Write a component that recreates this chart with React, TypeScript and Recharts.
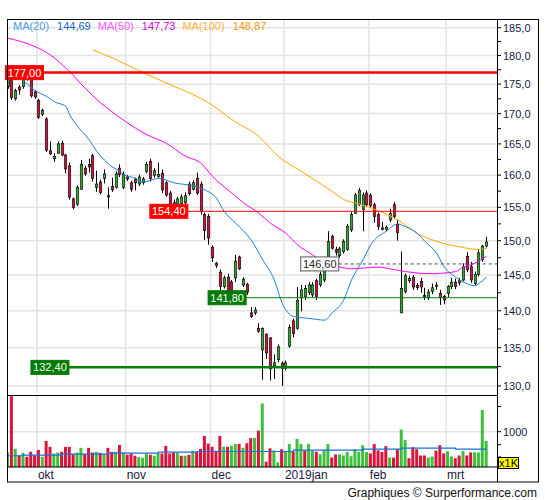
import React from 'react';
import { ComposedChart, Bar, Line, XAxis, YAxis, CartesianGrid, ReferenceLine, Cell } from 'recharts';

const FONT = '"Liberation Sans", Arial, sans-serif';
const RED = '#d0103a';
const GREEN = '#30a830';
const VOL_RED = '#dc143c';
const VOL_GREEN = '#3cc03c';
const GRID = '#e3e3e3';
const TEXT = '#1a1a40';

// daily candles, 19 Sep 2018 .. 15 Mar 2019
const opens = [
  174.6, 176.1, 172.5, 174.5, 174.6, 176.3, 175.8, 173.7, 172.2, 169.9,
  169.1, 163.9, 162.6, 163.5, 165.1, 163.2, 161.5, 156.3, 155.5, 157.8,
  161.1, 161.7, 163.1, 158.1, 158.9, 159.5, 156.8, 158.2, 158.1, 161.1,
  158.1, 159.7, 158.8, 159.4, 158.6, 158.8, 160.6, 162.2, 160.0, 159.8,
  160.3, 158.8, 157.2, 155.7, 155.4, 155.6, 155.7, 158.6, 157.8, 159.5,
  158.6, 153.9, 153.6, 149.0, 146.7, 145.4, 143.4, 144.7, 144.0, 144.6,
  147.6, 143.6, 143.7, 139.7, 139.7, 137.6, 134.7, 136.8, 136.3, 132.6,
  133.4, 132.9, 132.3, 135.2, 138.6, 137.6, 141.8, 142.0, 142.5, 142.2,
  144.2, 143.6, 144.3, 146.0, 150.6, 148.7, 147.8, 148.4, 148.7, 151.6,
  154.1, 155.4, 154.7, 157.2, 156.9, 155.4, 153.9, 151.9, 151.7, 153.1,
  155.4, 152.4, 139.7, 142.7, 144.2, 144.7, 143.5, 144.1, 142.1, 141.8,
  142.7, 143.4, 142.4, 142.0, 142.4, 143.4, 144.0, 143.9, 144.3, 147.7,
  146.2, 143.8, 145.1, 147.2, 149.2,
];
const highs = [
  176.5, 176.5, 174.2, 174.8, 175.9, 176.8, 176.1, 174.0, 172.5, 170.8,
  169.4, 165.4, 163.5, 165.4, 165.5, 163.4, 162.0, 156.5, 158.4, 162.4,
  161.5, 162.6, 163.4, 160.7, 159.3, 160.9, 158.1, 159.6, 160.6, 161.7,
  160.6, 160.0, 159.1, 159.6, 160.1, 159.7, 162.1, 162.6, 161.1, 162.0,
  160.9, 159.1, 157.5, 156.2, 156.6, 157.0, 157.3, 159.0, 159.2, 160.4,
  159.0, 154.2, 154.0, 149.3, 146.9, 145.8, 144.9, 145.2, 144.3, 147.9,
  147.8, 144.7, 143.9, 140.5, 140.5, 138.3, 137.7, 136.9, 136.4, 134.1,
  135.4, 133.2, 133.3, 138.1, 138.9, 143.3, 143.6, 143.6, 144.0, 144.0,
  144.5, 145.5, 146.9, 151.4, 150.9, 149.1, 149.1, 150.2, 152.5, 154.3,
  157.2, 158.0, 157.3, 157.6, 157.2, 155.7, 154.2, 152.8, 152.3, 154.8,
  155.8, 153.1, 148.4, 145.2, 144.9, 145.0, 143.9, 144.6, 143.2, 143.0,
  143.8, 144.0, 142.9, 142.2, 143.6, 144.6, 144.5, 144.6, 146.7, 148.3,
  146.9, 145.5, 148.6, 149.4, 150.6,
];
const lows = [
  174.2, 172.3, 172.2, 173.2, 174.2, 175.6, 172.7, 172.5, 169.1, 169.6,
  163.7, 163.2, 162.1, 163.4, 163.0, 160.3, 156.2, 154.7, 155.2, 157.7,
  159.9, 160.4, 159.0, 157.4, 157.0, 158.7, 154.8, 157.4, 157.9, 159.7,
  157.8, 159.1, 157.4, 157.6, 158.3, 158.5, 160.3, 159.0, 159.6, 159.6,
  157.2, 156.6, 154.6, 154.2, 155.1, 155.3, 155.5, 156.8, 157.6, 156.9,
  153.9, 150.1, 149.4, 146.9, 146.0, 142.6, 143.1, 142.4, 142.3, 144.0,
  145.7, 143.3, 142.2, 139.0, 139.4, 137.0, 130.8, 133.5, 130.7, 130.9,
  133.1, 130.0, 132.0, 135.0, 136.4, 137.4, 139.9, 141.5, 142.2, 141.9,
  141.5, 143.3, 144.0, 145.9, 148.7, 147.8, 147.5, 148.1, 148.5, 151.3,
  154.0, 155.2, 151.4, 155.1, 154.9, 152.7, 151.6, 151.5, 151.4, 152.8,
  153.3, 150.0, 139.7, 142.4, 143.9, 142.9, 142.9, 142.5, 141.5, 141.5,
  142.3, 142.9, 140.8, 140.9, 141.9, 143.0, 143.0, 143.5, 144.1, 145.4,
  143.9, 143.5, 144.8, 146.9, 149.0,
];
const closes = [
  176.1, 172.7, 173.9, 174.0, 175.8, 175.8, 173.0, 172.8, 169.4, 170.5,
  164.0, 163.4, 163.0, 165.0, 163.2, 161.0, 156.6, 155.0, 158.1, 161.7,
  160.2, 161.3, 159.5, 158.6, 157.3, 160.2, 156.6, 157.7, 160.2, 160.1,
  160.1, 159.4, 157.8, 158.8, 159.7, 159.4, 161.7, 159.5, 160.7, 160.1,
  157.7, 156.9, 155.4, 155.2, 156.3, 156.6, 156.8, 157.1, 158.8, 157.2,
  154.4, 151.5, 150.4, 147.5, 146.4, 143.4, 144.6, 142.7, 142.7, 147.0,
  145.9, 144.4, 142.6, 139.2, 140.1, 137.2, 137.6, 134.3, 132.2, 133.0,
  135.1, 132.3, 133.0, 137.7, 136.9, 141.4, 142.9, 143.1, 143.6, 143.6,
  142.0, 145.1, 146.5, 149.9, 148.9, 148.3, 148.8, 149.9, 152.1, 153.9,
  156.9, 157.6, 156.9, 155.4, 155.3, 153.6, 152.1, 151.7, 152.0, 154.1,
  153.6, 151.2, 143.1, 144.9, 144.5, 143.3, 143.2, 143.3, 141.9, 142.6,
  143.2, 143.6, 141.8, 141.5, 143.4, 144.0, 143.4, 144.2, 146.2, 145.8,
  144.3, 145.1, 148.2, 149.2, 149.8,
];

// volume in thousands, and its colour (g = up day, r = down day)
const volumes = [
  565, 2650, 625, 521, 560, 503, 576, 521, 608, 503,
  777, 660, 550, 565, 576, 660, 660, 541, 565, 642,
  541, 642, 565, 576, 560, 541, 642, 576, 576, 696,
  565, 531, 550, 517, 499, 489, 550, 531, 517, 560,
  550, 678, 550, 565, 565, 517, 517, 531, 592, 576,
  625, 890, 722, 660, 592, 890, 660, 660, 678, 716,
  716, 642, 730, 838, 845, 1030, 2170, 439, 635, 600,
  432, 618, 584, 712, 577, 820, 712, 595, 712, 595,
  577, 537, 595, 712, 492, 537, 537, 521, 573, 511,
  618, 573, 691, 573, 551, 712, 600, 573, 672, 492,
  492, 618, 1060, 798, 483, 653, 618, 521, 521, 492,
  507, 595, 691, 551, 584, 507, 483, 521, 589, 521,
  567, 567, 567, 1810, 775,
];
const volumeSide =
  'grgrgrrrrg' + 'rrggrrrrgg' + 'rrrgrgrrgr' + 'grrrgggrgg' + 'rrrrgrgrgr' +
  'rrrrrrgrgg' + 'rgrrgrgrrg' + 'grggrggrgg' + 'rgggrrgggg' + 'ggggrrrrrg' +
  'rrggrrrrrg' + 'grrrggrrgr' + 'rgggg';

// moving averages: [day index, value]
const ma20Points = [
  [0, 177.3], [3, 176.2], [7, 173.9], [10, 172.9], [12, 172.0], [15, 171.2], [16, 169.8],
  [18, 167.9], [21, 165.7], [23, 163.8], [25, 162.4], [27, 161.3], [29, 160.6], [30, 160.1],
  [33, 159.5], [35, 158.9], [39, 159.5], [43, 158.8], [48, 158.3], [51, 157.7], [54, 156.4],
  [56, 154.4], [59, 152.6], [63, 150.1], [66, 147.2], [69, 144.3], [71, 141.1], [74, 139.2],
  [77, 139.0], [80, 138.8], [82, 138.7], [84, 139.7], [87, 141.5], [89, 144.3], [92, 147.2],
  [94, 149.4], [98, 151.4], [101, 152.5], [102, 152.3], [106, 151.1], [108, 149.9],
  [111, 148.2], [113, 146.2], [116, 144.7], [118, 144.0], [121, 143.5], [122, 143.8], [124, 144.69],
];
const ma50Points = [
  [0, 183.1], [7, 181.6], [11, 180.1], [15, 177.8], [20, 174.3], [24, 171.8], [28, 169.8],
  [33, 167.6], [36, 166.5], [41, 165.1], [46, 163.0], [50, 161.9], [53, 159.8], [58, 157.2],
  [61, 155.7], [65, 154.1], [68, 152.6], [72, 151.1], [75, 149.4], [79, 147.9], [82, 146.7],
  [86, 146.15], [89, 145.9], [92, 146.0], [96, 146.15], [99, 145.9], [103, 145.5], [106, 145.3],
  [110, 145.2], [113, 145.3], [116, 145.5], [118, 146.15], [121, 146.7], [124, 147.73],
];
const ma100Points = [
  [22, 181.0], [27, 179.6], [35, 177.0], [41, 175.2], [48, 173.2], [52, 171.8], [58, 169.0],
  [65, 166.2], [70, 163.0], [76, 160.6], [84, 157.45], [87, 156.2], [91, 155.5], [95, 154.7],
  [101, 153.1], [106, 151.1], [111, 149.9], [117, 149.1], [122, 148.7], [124, 148.87],
];
const volumeAvgPoints = [
  [0, 517], [4, 527], [14, 541], [26, 556], [39, 571], [49, 581], [74, 603],
  [92, 620], [102, 637], [116, 620], [124, 620],
];

const monthTicks = [7.5, 30.5, 52.5, 71.5, 93.5, 113.5];
const monthLabels = ['okt', 'nov', 'dec', '2019jan', 'feb', 'mrt'];
const priceMajor = [130, 135, 140, 145, 150, 155, 160, 165, 170, 175, 180, 185];
const priceTicks = [130, 132.5, 135, 137.5, 140, 142.5, 145, 147.5, 150, 152.5, 155, 157.5,
  160, 162.5, 165, 167.5, 170, 172.5, 175, 177.5, 180, 182.5, 185];
const volumeTicks = [500, 700, 1000, 2000];

// support / resistance levels and the day where each one starts
const levelValues = [177.0, 154.4, 141.8, 132.4, 146.6];
const levelStart = [9.2, 46.6, 61.7, 15.8, 85.7];

const X_DOMAIN = [-0.25, 126.7];
const fmt = (v: number, d: number) => v.toFixed(d).replace('.', ',');

const priceRows = opens.map((o, i) => ({
  i,
  o,
  h: highs[i],
  l: lows[i],
  c: closes[i],
  range: [lows[i], highs[i]],
  ma20: null as number | null,
  ma50: null as number | null,
  ma100: null as number | null,
}));
ma20Points.forEach(([i, v]) => (priceRows[i].ma20 = v));
ma50Points.forEach(([i, v]) => (priceRows[i].ma50 = v));
ma100Points.forEach(([i, v]) => (priceRows[i].ma100 = v));

const volumeRows = volumes.map((v, i) => ({ i, vol: v, avg: null as number | null }));
volumeAvgPoints.forEach(([i, v]) => (volumeRows[i].avg = v));

const Candle = (props: any) => {
  const { x, y, width, height, payload } = props;
  if (x == null || !payload) return null;
  const { o, h, l, c } = payload;
  const cx = Math.round(x + width / 2) + 0.5;
  const lh = Math.log(h);
  const span = lh - Math.log(l) || 1;
  const toY = (v: number) => y + (height * (lh - Math.log(v))) / span;
  const top = toY(Math.max(o, c));
  const bottom = toY(Math.min(o, c));
  return (
    <g>
      <line x1={cx} x2={cx} y1={y} y2={y + height} stroke="#000" strokeWidth={1} />
      <rect
        x={cx - 1.2}
        y={top}
        width={2.4}
        height={Math.max(bottom - top, 1)}
        fill={c >= o ? GREEN : RED}
        stroke="#111"
        strokeWidth={0.7}
      />
    </g>
  );
};

const PriceTick = ({ x, y, payload }: any) => {
  const major = payload.value % 5 === 0;
  return (
    <g>
      <line x1={x} x2={x + 4} y1={y} y2={y} stroke="#000" />
      {major && (
        <text x={x + 6} y={y + 4} fontSize={11} fill={TEXT} fontFamily={FONT}>
          {fmt(payload.value, 1)}
        </text>
      )}
    </g>
  );
};

const VolumeTick = ({ x, y, payload }: any) => (
  <g>
    <line x1={x} x2={x + 4} y1={y} y2={y} stroke="#000" />
    {payload.value === 1000 && (
      <text x={x + 6} y={y + 4} fontSize={11} fill={TEXT} fontFamily={FONT}>
        1000
      </text>
    )}
  </g>
);

const MonthTick = ({ x, y, payload }: any) => (
  <text x={x + 1} y={y + 12} fontSize={12} fill={TEXT} fontFamily={FONT}>
    {monthLabels[monthTicks.indexOf(payload.value)]}
  </text>
);

const levelTag = (text: string, fill: string, color: string, stroke: string) => (props: any) => {
  const { x, y } = props.viewBox;
  return (
    <g>
      <rect x={x - 38} y={y - 7} width={38} height={14} fill={fill} stroke={stroke} />
      <text x={x - 19} y={y + 4} textAnchor="middle" fontSize={11} fill={color} fontFamily={FONT}>
        {text}
      </text>
    </g>
  );
};

const levelStyles = [
  { stroke: '#ff0000', width: 2.5, fill: '#ff0000', color: '#fff', border: '#ff0000', dash: undefined },
  { stroke: '#ff0000', width: 1, fill: '#ff0000', color: '#fff', border: '#ff0000', dash: undefined },
  { stroke: '#008000', width: 1, fill: '#007a00', color: '#fff', border: '#007a00', dash: undefined },
  { stroke: '#008000', width: 2.5, fill: '#007a00', color: '#fff', border: '#007a00', dash: undefined },
  { stroke: '#444', width: 1, fill: '#fff', color: '#222', border: '#555', dash: '3 3' },
];

const legend = [
  { name: 'MA(20)', value: 144.69, light: '#4a9be0', dark: '#1565c0' },
  { name: 'MA(50)', value: 147.73, light: '#ff55ff', dark: '#e000e0' },
  { name: 'MA(100)', value: 148.87, light: '#ffb040', dark: '#f09a00' },
];

export default function App() {
  return (
    <div style={{ position: 'absolute', left: 0, top: 0, width: 545, height: 500, background: '#fff', fontFamily: FONT }}>
      <div style={{ position: 'absolute', left: 0, top: 0 }}>
        <ComposedChart width={545} height={394} data={priceRows} margin={{ top: 19, right: 5, bottom: 1, left: 7 }}>
          <CartesianGrid horizontalValues={priceMajor} verticalValues={monthTicks} stroke={GRID} strokeWidth={1.5} />
          <XAxis dataKey="i" type="number" domain={X_DOMAIN} ticks={monthTicks} allowDataOverflow hide />
          <YAxis
            orientation="right"
            type="number"
            scale="log"
            domain={[129.1, 186.6]}
            allowDataOverflow
            ticks={priceTicks}
            interval={0}
            width={43}
            axisLine={false}
            tickLine={false}
            tickSize={0}
            tickMargin={0}
            tick={<PriceTick />}
          />
          <Bar dataKey="range" barSize={3} shape={(p: any) => <Candle {...p} />} isAnimationActive={false} />
          <Line dataKey="ma100" type="monotone" stroke="#ffa500" strokeWidth={1} dot={false} activeDot={false} connectNulls isAnimationActive={false} />
          <Line dataKey="ma50" type="monotone" stroke="#ff00ff" strokeWidth={1} dot={false} activeDot={false} connectNulls isAnimationActive={false} />
          <Line dataKey="ma20" type="monotone" stroke="#1e7fd8" strokeWidth={1} dot={false} activeDot={false} connectNulls isAnimationActive={false} />
          {levelValues.map((v, k) => (
            <ReferenceLine
              key={k}
              segment={[{ x: levelStart[k], y: v }, { x: X_DOMAIN[1], y: v }]}
              stroke={levelStyles[k].stroke}
              strokeWidth={levelStyles[k].width}
              strokeDasharray={levelStyles[k].dash}
              label={levelTag(fmt(v, 2), levelStyles[k].fill, levelStyles[k].color, levelStyles[k].border)}
            />
          ))}
        </ComposedChart>
      </div>

      <div style={{ position: 'absolute', left: 0, top: 393 }}>
        <ComposedChart width={545} height={90} data={volumeRows} margin={{ top: 3, right: 5, bottom: 0, left: 7 }}>
          <CartesianGrid horizontalValues={[1000]} verticalValues={monthTicks} stroke={GRID} strokeWidth={1.5} />
          <XAxis
            dataKey="i"
            type="number"
            domain={X_DOMAIN}
            ticks={monthTicks}
            interval={0}
            allowDataOverflow
            height={16}
            axisLine={{ stroke: '#000' }}
            tickLine={false}
            tickSize={0}
            tickMargin={0}
            tick={<MonthTick />}
          />
          <YAxis
            orientation="right"
            type="number"
            scale="log"
            domain={[380, 2660]}
            allowDataOverflow
            ticks={volumeTicks}
            interval={0}
            width={43}
            axisLine={false}
            tickLine={false}
            tickSize={0}
            tickMargin={0}
            tick={<VolumeTick />}
          />
          <Bar dataKey="vol" barSize={3} isAnimationActive={false}>
            {volumeRows.map((r) => (
              <Cell key={r.i} fill={volumeSide[r.i] === 'g' ? VOL_GREEN : VOL_RED} />
            ))}
          </Bar>
          <Line dataKey="avg" type="stepAfter" stroke="#1a6fd6" strokeWidth={1.2} dot={false} activeDot={false} connectNulls isAnimationActive={false} />
        </ComposedChart>
      </div>

      <svg width={545} height={500} style={{ position: 'absolute', left: 0, top: 0, pointerEvents: 'none' }}>
        <rect x={7.5} y={19.5} width={531} height={462.5} fill="none" stroke="#000" />
        <line x1={497.5} x2={497.5} y1={19.5} y2={482} stroke="#000" />
        <line x1={7.5} x2={497.5} y1={395.5} y2={395.5} stroke="#000" />
      </svg>

      <div style={{ position: 'absolute', left: 13, top: 20, fontSize: 11, whiteSpace: 'nowrap' }}>
        {legend.map((m) => (
          <span key={m.name} style={{ marginRight: 7 }}>
            <span style={{ color: m.light, marginRight: 8 }}>{m.name}</span>
            <span style={{ color: m.dark }}>{fmt(m.value, 2)}</span>
          </span>
        ))}
      </div>

      <div
        style={{
          position: 'absolute', left: 498, top: 457, width: 21, height: 12, background: '#ffff00',
          border: '1px solid #000', boxSizing: 'border-box', fontSize: 11, lineHeight: '10px', textAlign: 'center',
        }}
      >
        x1K
      </div>

      <div style={{ position: 'absolute', left: 0, top: 486, width: 537, textAlign: 'right', fontSize: 12, color: '#111' }}>
        Graphiques © Surperformance.com
      </div>
    </div>
  );
}
